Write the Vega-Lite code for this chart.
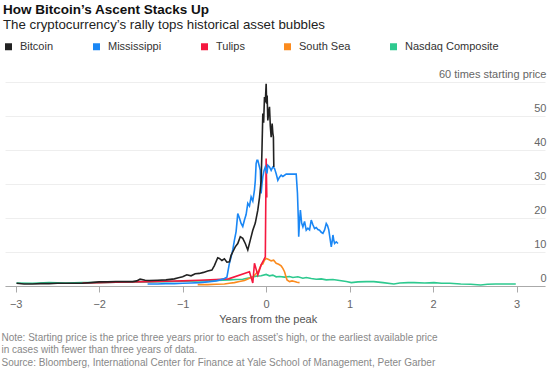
{
  "$schema": "https://vega.github.io/schema/vega-lite/v6.json",
  "autosize": {"type": "none"},
  "padding": {"left": 5, "top": 82, "right": 5, "bottom": 85},
  "width": 540,
  "height": 204,
  "background": "white",
  "config": {
    "font": "Liberation Sans",
    "view": {"stroke": null},
    "title": {"font": "Liberation Sans", "subtitleFont": "Liberation Sans"}
  },
  "title": {
    "text": "How Bitcoin’s Ascent Stacks Up",
    "subtitle": "The cryptocurrency’s rally tops historical asset bubbles",
    "anchor": "start",
    "frame": "group",
    "dx": -2,
    "offset": 10,
    "fontSize": 13.5,
    "fontWeight": "bold",
    "color": "#111111",
    "subtitleFontSize": 13.3,
    "subtitleColor": "#222222",
    "subtitlePadding": 1
  },
  "datasets": {
    "series": [
      {"s": "Nasdaq Composite", "x": -2.99, "y": 0.9},
      {"s": "Nasdaq Composite", "x": -2.8, "y": 0.8},
      {"s": "Nasdaq Composite", "x": -2.6, "y": 1.0},
      {"s": "Nasdaq Composite", "x": -2.4, "y": 0.9},
      {"s": "Nasdaq Composite", "x": -2.2, "y": 1.0},
      {"s": "Nasdaq Composite", "x": -2.0, "y": 1.0},
      {"s": "Nasdaq Composite", "x": -1.8, "y": 1.1},
      {"s": "Nasdaq Composite", "x": -1.6, "y": 1.1},
      {"s": "Nasdaq Composite", "x": -1.4, "y": 1.2},
      {"s": "Nasdaq Composite", "x": -1.2, "y": 1.3},
      {"s": "Nasdaq Composite", "x": -1.0, "y": 1.4},
      {"s": "Nasdaq Composite", "x": -0.8, "y": 1.5},
      {"s": "Nasdaq Composite", "x": -0.6, "y": 1.6},
      {"s": "Nasdaq Composite", "x": -0.44, "y": 1.8},
      {"s": "Nasdaq Composite", "x": -0.36, "y": 1.9},
      {"s": "Nasdaq Composite", "x": -0.28, "y": 2.0},
      {"s": "Nasdaq Composite", "x": -0.2, "y": 2.4},
      {"s": "Nasdaq Composite", "x": -0.12, "y": 2.9},
      {"s": "Nasdaq Composite", "x": -0.06, "y": 3.0},
      {"s": "Nasdaq Composite", "x": 0.0, "y": 3.4},
      {"s": "Nasdaq Composite", "x": 0.04, "y": 3.0},
      {"s": "Nasdaq Composite", "x": 0.08, "y": 3.2},
      {"s": "Nasdaq Composite", "x": 0.12, "y": 2.7},
      {"s": "Nasdaq Composite", "x": 0.16, "y": 2.8},
      {"s": "Nasdaq Composite", "x": 0.22, "y": 2.6},
      {"s": "Nasdaq Composite", "x": 0.28, "y": 2.8},
      {"s": "Nasdaq Composite", "x": 0.32, "y": 2.5},
      {"s": "Nasdaq Composite", "x": 0.38, "y": 2.7},
      {"s": "Nasdaq Composite", "x": 0.44, "y": 2.3},
      {"s": "Nasdaq Composite", "x": 0.48, "y": 2.5},
      {"s": "Nasdaq Composite", "x": 0.54, "y": 2.2},
      {"s": "Nasdaq Composite", "x": 0.6, "y": 2.0},
      {"s": "Nasdaq Composite", "x": 0.66, "y": 2.1},
      {"s": "Nasdaq Composite", "x": 0.72, "y": 1.8},
      {"s": "Nasdaq Composite", "x": 0.8, "y": 1.9},
      {"s": "Nasdaq Composite", "x": 0.88, "y": 1.6},
      {"s": "Nasdaq Composite", "x": 0.96, "y": 1.3},
      {"s": "Nasdaq Composite", "x": 1.02, "y": 1.0},
      {"s": "Nasdaq Composite", "x": 1.1, "y": 1.2},
      {"s": "Nasdaq Composite", "x": 1.2, "y": 1.3},
      {"s": "Nasdaq Composite", "x": 1.29, "y": 1.3},
      {"s": "Nasdaq Composite", "x": 1.4, "y": 1.0},
      {"s": "Nasdaq Composite", "x": 1.53, "y": 0.6},
      {"s": "Nasdaq Composite", "x": 1.6, "y": 0.9},
      {"s": "Nasdaq Composite", "x": 1.7, "y": 1.0},
      {"s": "Nasdaq Composite", "x": 1.77, "y": 1.0},
      {"s": "Nasdaq Composite", "x": 1.9, "y": 0.9},
      {"s": "Nasdaq Composite", "x": 2.01, "y": 1.0},
      {"s": "Nasdaq Composite", "x": 2.1, "y": 0.8},
      {"s": "Nasdaq Composite", "x": 2.2, "y": 0.8},
      {"s": "Nasdaq Composite", "x": 2.33, "y": 0.6},
      {"s": "Nasdaq Composite", "x": 2.45, "y": 0.5},
      {"s": "Nasdaq Composite", "x": 2.57, "y": 0.3},
      {"s": "Nasdaq Composite", "x": 2.65, "y": 0.5},
      {"s": "Nasdaq Composite", "x": 2.75, "y": 0.6},
      {"s": "Nasdaq Composite", "x": 2.85, "y": 0.6},
      {"s": "Nasdaq Composite", "x": 2.99, "y": 0.6},

      {"s": "South Sea", "x": -0.82, "y": 0.4},
      {"s": "South Sea", "x": -0.7, "y": 0.4},
      {"s": "South Sea", "x": -0.6, "y": 0.5},
      {"s": "South Sea", "x": -0.5, "y": 0.6},
      {"s": "South Sea", "x": -0.44, "y": 0.8},
      {"s": "South Sea", "x": -0.38, "y": 1.0},
      {"s": "South Sea", "x": -0.32, "y": 1.3},
      {"s": "South Sea", "x": -0.26, "y": 1.6},
      {"s": "South Sea", "x": -0.2, "y": 2.3},
      {"s": "South Sea", "x": -0.16, "y": 2.6},
      {"s": "South Sea", "x": -0.12, "y": 3.7},
      {"s": "South Sea", "x": -0.09, "y": 4.5},
      {"s": "South Sea", "x": -0.06, "y": 6.2},
      {"s": "South Sea", "x": -0.04, "y": 6.5},
      {"s": "South Sea", "x": -0.02, "y": 7.6},
      {"s": "South Sea", "x": 0.0, "y": 8.1},
      {"s": "South Sea", "x": 0.03, "y": 7.8},
      {"s": "South Sea", "x": 0.06, "y": 7.4},
      {"s": "South Sea", "x": 0.09, "y": 7.6},
      {"s": "South Sea", "x": 0.12, "y": 6.7},
      {"s": "South Sea", "x": 0.15, "y": 6.4},
      {"s": "South Sea", "x": 0.18, "y": 5.9},
      {"s": "South Sea", "x": 0.2, "y": 5.2},
      {"s": "South Sea", "x": 0.22, "y": 4.2},
      {"s": "South Sea", "x": 0.24, "y": 2.5},
      {"s": "South Sea", "x": 0.25, "y": 1.8},
      {"s": "South Sea", "x": 0.28, "y": 1.3},
      {"s": "South Sea", "x": 0.31, "y": 1.5},
      {"s": "South Sea", "x": 0.34, "y": 1.3},
      {"s": "South Sea", "x": 0.37, "y": 1.1},
      {"s": "South Sea", "x": 0.4, "y": 1.0},

      {"s": "Tulips", "x": -2.2, "y": 0.9},
      {"s": "Tulips", "x": -2.0, "y": 1.0},
      {"s": "Tulips", "x": -1.8, "y": 1.1},
      {"s": "Tulips", "x": -1.6, "y": 1.2},
      {"s": "Tulips", "x": -1.4, "y": 1.3},
      {"s": "Tulips", "x": -1.2, "y": 1.4},
      {"s": "Tulips", "x": -1.0, "y": 1.5},
      {"s": "Tulips", "x": -0.8, "y": 1.7},
      {"s": "Tulips", "x": -0.6, "y": 1.9},
      {"s": "Tulips", "x": -0.45, "y": 2.1},
      {"s": "Tulips", "x": -0.2, "y": 4.2},
      {"s": "Tulips", "x": -0.16, "y": 0.9},
      {"s": "Tulips", "x": -0.14, "y": 6.7},
      {"s": "Tulips", "x": -0.1, "y": 3.2},
      {"s": "Tulips", "x": -0.06, "y": 6.2},
      {"s": "Tulips", "x": -0.03, "y": 7.6},
      {"s": "Tulips", "x": -0.01, "y": 8.6},
      {"s": "Tulips", "x": 0.0, "y": 37.5},
      {"s": "Tulips", "x": 0.008, "y": 26},

      {"s": "Mississippi", "x": -1.42, "y": 0.6},
      {"s": "Mississippi", "x": -1.3, "y": 0.6},
      {"s": "Mississippi", "x": -1.2, "y": 0.7},
      {"s": "Mississippi", "x": -1.1, "y": 0.7},
      {"s": "Mississippi", "x": -1.0, "y": 0.8},
      {"s": "Mississippi", "x": -0.9, "y": 0.9},
      {"s": "Mississippi", "x": -0.8, "y": 1.0},
      {"s": "Mississippi", "x": -0.7, "y": 1.2},
      {"s": "Mississippi", "x": -0.6, "y": 1.5},
      {"s": "Mississippi", "x": -0.55, "y": 1.8},
      {"s": "Mississippi", "x": -0.5, "y": 2.2},
      {"s": "Mississippi", "x": -0.47, "y": 2.6},
      {"s": "Mississippi", "x": -0.44, "y": 6.7},
      {"s": "Mississippi", "x": -0.42, "y": 8.5},
      {"s": "Mississippi", "x": -0.4, "y": 10.6},
      {"s": "Mississippi", "x": -0.38, "y": 13.5},
      {"s": "Mississippi", "x": -0.36, "y": 16},
      {"s": "Mississippi", "x": -0.34, "y": 21.3},
      {"s": "Mississippi", "x": -0.32, "y": 20},
      {"s": "Mississippi", "x": -0.3, "y": 18.4},
      {"s": "Mississippi", "x": -0.28, "y": 17.5},
      {"s": "Mississippi", "x": -0.26, "y": 19.4},
      {"s": "Mississippi", "x": -0.24, "y": 21},
      {"s": "Mississippi", "x": -0.22, "y": 24.3},
      {"s": "Mississippi", "x": -0.2, "y": 23.5},
      {"s": "Mississippi", "x": -0.18, "y": 26.2},
      {"s": "Mississippi", "x": -0.16, "y": 25},
      {"s": "Mississippi", "x": -0.14, "y": 28.2},
      {"s": "Mississippi", "x": -0.13, "y": 31},
      {"s": "Mississippi", "x": -0.12, "y": 36},
      {"s": "Mississippi", "x": -0.11, "y": 37},
      {"s": "Mississippi", "x": -0.1, "y": 37},
      {"s": "Mississippi", "x": -0.085, "y": 35.5},
      {"s": "Mississippi", "x": -0.07, "y": 34},
      {"s": "Mississippi", "x": -0.06, "y": 27.2},
      {"s": "Mississippi", "x": -0.05, "y": 30},
      {"s": "Mississippi", "x": -0.04, "y": 32.1},
      {"s": "Mississippi", "x": -0.025, "y": 34},
      {"s": "Mississippi", "x": -0.01, "y": 35},
      {"s": "Mississippi", "x": 0.01, "y": 33.1},
      {"s": "Mississippi", "x": 0.02, "y": 35.5},
      {"s": "Mississippi", "x": 0.04, "y": 35},
      {"s": "Mississippi", "x": 0.06, "y": 34},
      {"s": "Mississippi", "x": 0.08, "y": 35},
      {"s": "Mississippi", "x": 0.1, "y": 34.6},
      {"s": "Mississippi", "x": 0.12, "y": 33},
      {"s": "Mississippi", "x": 0.14, "y": 31.1},
      {"s": "Mississippi", "x": 0.16, "y": 32},
      {"s": "Mississippi", "x": 0.18, "y": 32.6},
      {"s": "Mississippi", "x": 0.2, "y": 32.2},
      {"s": "Mississippi", "x": 0.24, "y": 32.9},
      {"s": "Mississippi", "x": 0.3, "y": 32.9},
      {"s": "Mississippi", "x": 0.36, "y": 32.9},
      {"s": "Mississippi", "x": 0.375, "y": 27.3},
      {"s": "Mississippi", "x": 0.385, "y": 20},
      {"s": "Mississippi", "x": 0.39, "y": 14.5},
      {"s": "Mississippi", "x": 0.4, "y": 19},
      {"s": "Mississippi", "x": 0.41, "y": 22.3},
      {"s": "Mississippi", "x": 0.425, "y": 18.5},
      {"s": "Mississippi", "x": 0.44, "y": 17.4},
      {"s": "Mississippi", "x": 0.46, "y": 19},
      {"s": "Mississippi", "x": 0.48, "y": 16.4},
      {"s": "Mississippi", "x": 0.5, "y": 17},
      {"s": "Mississippi", "x": 0.52, "y": 16.5},
      {"s": "Mississippi", "x": 0.54, "y": 19.4},
      {"s": "Mississippi", "x": 0.56, "y": 18},
      {"s": "Mississippi", "x": 0.58, "y": 16.9},
      {"s": "Mississippi", "x": 0.6, "y": 17.2},
      {"s": "Mississippi", "x": 0.62, "y": 16.6},
      {"s": "Mississippi", "x": 0.64, "y": 16.4},
      {"s": "Mississippi", "x": 0.66, "y": 15.8},
      {"s": "Mississippi", "x": 0.68, "y": 15.5},
      {"s": "Mississippi", "x": 0.7, "y": 16.5},
      {"s": "Mississippi", "x": 0.72, "y": 18.4},
      {"s": "Mississippi", "x": 0.735, "y": 17.8},
      {"s": "Mississippi", "x": 0.75, "y": 16.5},
      {"s": "Mississippi", "x": 0.765, "y": 14},
      {"s": "Mississippi", "x": 0.78, "y": 11.5},
      {"s": "Mississippi", "x": 0.79, "y": 13},
      {"s": "Mississippi", "x": 0.8, "y": 15},
      {"s": "Mississippi", "x": 0.81, "y": 13.5},
      {"s": "Mississippi", "x": 0.82, "y": 12.5},
      {"s": "Mississippi", "x": 0.84, "y": 13},
      {"s": "Mississippi", "x": 0.86, "y": 12.5},

      {"s": "Bitcoin", "x": -2.99, "y": 0.8},
      {"s": "Bitcoin", "x": -2.9, "y": 0.6},
      {"s": "Bitcoin", "x": -2.8, "y": 0.6},
      {"s": "Bitcoin", "x": -2.7, "y": 0.7},
      {"s": "Bitcoin", "x": -2.6, "y": 0.7},
      {"s": "Bitcoin", "x": -2.5, "y": 0.8},
      {"s": "Bitcoin", "x": -2.4, "y": 0.8},
      {"s": "Bitcoin", "x": -2.3, "y": 0.8},
      {"s": "Bitcoin", "x": -2.2, "y": 0.8},
      {"s": "Bitcoin", "x": -2.1, "y": 1.0},
      {"s": "Bitcoin", "x": -2.0, "y": 1.2},
      {"s": "Bitcoin", "x": -1.9, "y": 1.2},
      {"s": "Bitcoin", "x": -1.8, "y": 1.3},
      {"s": "Bitcoin", "x": -1.7, "y": 1.3},
      {"s": "Bitcoin", "x": -1.6, "y": 1.3},
      {"s": "Bitcoin", "x": -1.55, "y": 1.5},
      {"s": "Bitcoin", "x": -1.51, "y": 2.0},
      {"s": "Bitcoin", "x": -1.45, "y": 1.7},
      {"s": "Bitcoin", "x": -1.4, "y": 1.6},
      {"s": "Bitcoin", "x": -1.3, "y": 1.7},
      {"s": "Bitcoin", "x": -1.2, "y": 1.8},
      {"s": "Bitcoin", "x": -1.1, "y": 2.1},
      {"s": "Bitcoin", "x": -1.05, "y": 2.4},
      {"s": "Bitcoin", "x": -1.0, "y": 2.7},
      {"s": "Bitcoin", "x": -0.95, "y": 3.3},
      {"s": "Bitcoin", "x": -0.9, "y": 3.0},
      {"s": "Bitcoin", "x": -0.85, "y": 3.6},
      {"s": "Bitcoin", "x": -0.8, "y": 3.7},
      {"s": "Bitcoin", "x": -0.75, "y": 4.0},
      {"s": "Bitcoin", "x": -0.7, "y": 4.4},
      {"s": "Bitcoin", "x": -0.65, "y": 4.7},
      {"s": "Bitcoin", "x": -0.62, "y": 6.0},
      {"s": "Bitcoin", "x": -0.58, "y": 8.3},
      {"s": "Bitcoin", "x": -0.56, "y": 8.1},
      {"s": "Bitcoin", "x": -0.53, "y": 7.5},
      {"s": "Bitcoin", "x": -0.5, "y": 8.0},
      {"s": "Bitcoin", "x": -0.47, "y": 7.0},
      {"s": "Bitcoin", "x": -0.44, "y": 7.1},
      {"s": "Bitcoin", "x": -0.42, "y": 9.0},
      {"s": "Bitcoin", "x": -0.4, "y": 10.0},
      {"s": "Bitcoin", "x": -0.37, "y": 11.5},
      {"s": "Bitcoin", "x": -0.34, "y": 12.5},
      {"s": "Bitcoin", "x": -0.31, "y": 14.5},
      {"s": "Bitcoin", "x": -0.28, "y": 14.0},
      {"s": "Bitcoin", "x": -0.25, "y": 12.5},
      {"s": "Bitcoin", "x": -0.22, "y": 10.6},
      {"s": "Bitcoin", "x": -0.19, "y": 13.5},
      {"s": "Bitcoin", "x": -0.16, "y": 16.4},
      {"s": "Bitcoin", "x": -0.13, "y": 18.5},
      {"s": "Bitcoin", "x": -0.1, "y": 22.3},
      {"s": "Bitcoin", "x": -0.08, "y": 26},
      {"s": "Bitcoin", "x": -0.06, "y": 31},
      {"s": "Bitcoin", "x": -0.05, "y": 40},
      {"s": "Bitcoin", "x": -0.04, "y": 50.7},
      {"s": "Bitcoin", "x": -0.03, "y": 48},
      {"s": "Bitcoin", "x": -0.02, "y": 55.6},
      {"s": "Bitcoin", "x": -0.01, "y": 54},
      {"s": "Bitcoin", "x": 0.0, "y": 59.5},
      {"s": "Bitcoin", "x": 0.006, "y": 53.6},
      {"s": "Bitcoin", "x": 0.012, "y": 56},
      {"s": "Bitcoin", "x": 0.02, "y": 48.7},
      {"s": "Bitcoin", "x": 0.03, "y": 51},
      {"s": "Bitcoin", "x": 0.04, "y": 52.7},
      {"s": "Bitcoin", "x": 0.05, "y": 47},
      {"s": "Bitcoin", "x": 0.06, "y": 43.8},
      {"s": "Bitcoin", "x": 0.066, "y": 46},
      {"s": "Bitcoin", "x": 0.072, "y": 47.8},
      {"s": "Bitcoin", "x": 0.08, "y": 45},
      {"s": "Bitcoin", "x": 0.087, "y": 43.8},
      {"s": "Bitcoin", "x": 0.09, "y": 38},
      {"s": "Bitcoin", "x": 0.092, "y": 35}
    ]
  },
  "data": {"name": "series"},
  "mark": {"type": "line", "strokeWidth": 1.6, "interpolate": "linear"},
  "encoding": {
    "x": {
      "field": "x",
      "type": "quantitative",
      "scale": {"domain": [-3.128, 3.34], "nice": false, "zero": false},
      "axis": {
        "values": [-3, -2, -1, 0, 1, 2, 3],
        "format": "d",
        "grid": false,
        "domainColor": "#aaaaaa",
        "tickColor": "#aaaaaa",
        "tickSize": 6,
        "labelPadding": 6.5,
        "labelFontSize": 11,
        "labelColor": "#666666",
        "labelFlush": false,
        "title": "Years from the peak",
        "titleFontSize": 11,
        "titleFontWeight": "normal",
        "titleColor": "#555555",
        "titleX": 262.7,
        "titleY": 33,
        "titleBaseline": "middle",
        "titleAlign": "center"
      }
    },
    "y": {
      "field": "y",
      "type": "quantitative",
      "scale": {"domain": [0, 60], "nice": false, "zero": true},
      "axis": {
        "orient": "right",
        "values": [0, 10, 20, 30, 40, 50, 60],
        "labelExpr": "datum.value == 60 ? '60 times starting price' : datum.label",
        "domain": false,
        "ticks": false,
        "tickSize": 0,
        "grid": true,
        "gridColor": "#eeeeee",
        "labelAlign": "right",
        "labelBaseline": "middle",
        "labelPadding": 1,
        "labelOffset": -7.5,
        "labelFontSize": 11,
        "labelColor": "#666666",
        "labelBound": false,
        "labelFlush": false,
        "labelOverlap": false,
        "title": [
          "Note: Starting price is the price three years prior to each asset’s high, or the earliest available price",
          "in cases with fewer than three years of data.",
          "Source: Bloomberg, International Center for Finance at Yale School of Management, Peter Garber"
        ],
        "titleAngle": 0,
        "titleAlign": "left",
        "titleBaseline": "top",
        "titleX": -544,
        "titleY": 250.3,
        "titleFontSize": 10,
        "titleFontWeight": "normal",
        "titleColor": "#888888",
        "titleLineHeight": 12.5
      }
    },
    "color": {
      "field": "s",
      "type": "nominal",
      "scale": {
        "domain": ["Bitcoin", "Mississippi", "Tulips", "South Sea", "Nasdaq Composite"],
        "range": ["#222222", "#1a87f5", "#f5183f", "#fb8b1e", "#2ec98f"]
      },
      "legend": {
        "orient": "none",
        "direction": "horizontal",
        "legendX": -2,
        "legendY": -41,
        "title": null,
        "symbolType": "square",
        "symbolSize": 49,
        "symbolStrokeWidth": 0,
        "labelFontSize": 11,
        "labelColor": "#333333",
        "labelOffset": 6,
        "columnPadding": 37,
        "encode": {
          "symbols": {"update": {"fill": {"scale": "color", "field": "value"}, "strokeWidth": {"value": 0}}}
        }
      }
    }
  }
}
